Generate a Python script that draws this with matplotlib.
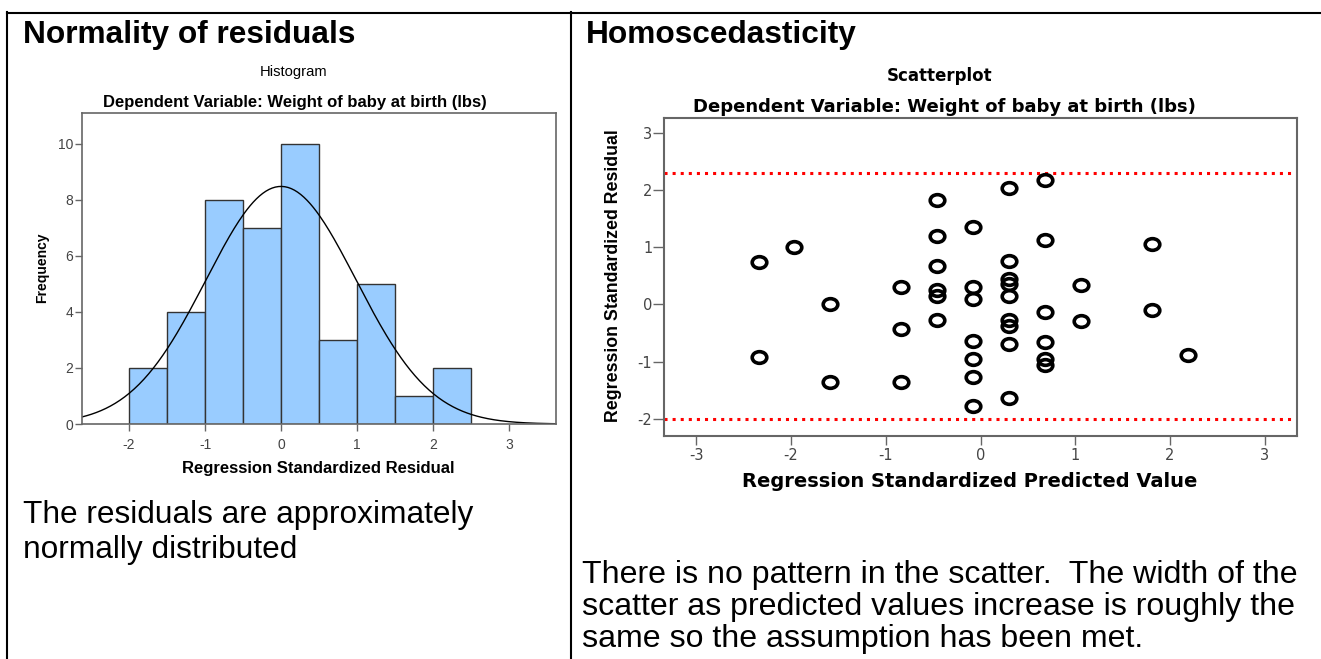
import numpy as np
import matplotlib
matplotlib.use("Agg")
import matplotlib.pyplot as plt
from matplotlib.lines import Line2D
from matplotlib.path import Path

plt.rcParams['axes.unicode_minus'] = False

# ---- data ----
bin_edges = [-2.0, -1.5, -1.0, -0.5, 0.0, 0.5, 1.0, 1.5, 2.0, 2.5]
bin_counts = [2, 4, 8, 7, 10, 3, 5, 1, 2]
resid_mean = 0.0
resid_std = 0.988

pred_x = [-2.34, -2.34, -1.97, -1.59, -1.59,
          -0.835, -0.835, -0.835,
          -0.456, -0.456, -0.456, -0.456, -0.456, -0.456,
          -0.08, -0.08, -0.08, -0.08, -0.08, -0.08, -0.08,
          0.30, 0.30, 0.30, 0.30, 0.30, 0.30, 0.30, 0.30, 0.30,
          0.68, 0.68, 0.68, 0.68, 0.68, 0.68,
          1.056, 1.056, 1.81, 1.81, 2.19]
resid_y = [0.75, -0.92, 1.01, 0.01, -1.35,
           0.31, -0.43, -1.36,
           1.83, 1.20, 0.68, 0.255, 0.155, -0.27,
           1.35, 0.30, 0.09, -0.64, -0.95, -1.26, -1.78,
           2.03, 0.76, 0.45, 0.36, 0.14, -0.28, -0.37, -0.70, -1.64,
           2.18, 1.13, -0.13, -0.65, -0.96, -1.06,
           0.34, -0.29, 1.06, -0.09, -0.89]
upper_limit = 2.29
lower_limit = -2.0

W, H = 1321, 659
def fx(px):
    return px / W
def fy(py):
    return 1 - py / H

sans = "Liberation Sans"
wide = "DejaVu Sans"
gray = "#444444"

fig = plt.figure(figsize=(W / 100, H / 100), dpi=100)

# outer table frame
for xs, ys in [([7, 1321], [12.5, 12.5]), ([7, 7], [12, 659]), ([570.5, 570.5], [12, 659])]:
    fig.add_artist(Line2D([fx(v) for v in xs], [fy(v) for v in ys], color="black", lw=1.5,
                          transform=fig.transFigure))

# headers
fig.text(fx(23), fy(43), "Normality of residuals", family=sans, weight="bold", size=22.8, va="baseline")
fig.text(fx(586), fy(43), "Homoscedasticity", family=sans, weight="bold", size=22.8, va="baseline")

# ---- histogram ----
ax1 = fig.add_axes([fx(82), fy(424), (556 - 82) / W, (424 - 113) / H])
ax1.hist(bin_edges[:-1], bins=bin_edges, weights=bin_counts, color="#99CCFF",
         edgecolor="#333333", linewidth=1)
xs = np.linspace(-2.62, 3.62, 300)
bw = bin_edges[1] - bin_edges[0]
n = sum(bin_counts)
curve = n * bw / (resid_std * np.sqrt(2 * np.pi)) * np.exp(-0.5 * ((xs - resid_mean) / resid_std) ** 2)
ax1.plot(xs, curve, color="black", lw=1)
ax1.set_xlim(-2.62, 3.62)
ax1.set_ylim(0, 11.1)
ax1.set_xticks([-2, -1, 0, 1, 2, 3])
ax1.set_yticks([0, 2, 4, 6, 8, 10])
ax1.tick_params(direction="out", length=5, width=1, color="#666666", labelcolor=gray, labelsize=10)
ax1.tick_params(axis="x", pad=5)
ax1.tick_params(axis="y", pad=1.5)
for lab in ax1.get_xticklabels() + ax1.get_yticklabels():
    lab.set_family(sans)
for sp in ax1.spines.values():
    sp.set_color("#666666")
    sp.set_linewidth(1.2)

fig.text(fx(294), fy(76), "Histogram", family=sans, size=10.6, ha="center", va="baseline")
fig.text(fx(295), fy(107), "Dependent Variable: Weight of baby at birth (lbs)", family=sans,
         weight="bold", size=12, ha="center", va="baseline")
fig.text(fx(318), fy(473), "Regression Standardized Residual", family=sans, weight="bold",
         size=12, ha="center", va="baseline")
fig.text(fx(42), fy(268), "Frequency", family=sans, weight="bold", size=10, rotation=90,
         ha="center", va="center")

# ---- scatterplot ----
ax2 = fig.add_axes([fx(664), fy(436), (1297 - 664) / W, (436 - 118) / H])
circ = Path.unit_circle()
ellipse = Path(circ.vertices * np.array([1.25, 1.0]), circ.codes)
ax2.plot(pred_x, resid_y, linestyle="none", marker=ellipse, markersize=10.5,
         markerfacecolor="none", markeredgecolor="black", markeredgewidth=2.6, zorder=3)
ax2.axhline(upper_limit, color="red", linestyle=":", lw=2.2)
ax2.axhline(lower_limit, color="red", linestyle=":", lw=2.2)
ax2.set_xlim(-3.34, 3.34)
ax2.set_ylim(-2.3, 3.26)
ax2.set_xticks([-3, -2, -1, 0, 1, 2, 3])
ax2.set_yticks([-2, -1, 0, 1, 2, 3])
ax2.tick_params(direction="out", width=1, color="#666666", labelcolor=gray, labelsize=10.5)
ax2.tick_params(axis="x", length=6.5, pad=2)
ax2.tick_params(axis="y", length=8, pad=0.5)
for lab in ax2.get_xticklabels() + ax2.get_yticklabels():
    lab.set_family(wide)
for sp in ax2.spines.values():
    sp.set_color("#666666")
    sp.set_linewidth(1.5)

fig.text(fx(940), fy(81), "Scatterplot", family=wide, weight="bold", size=12,
         ha="center", va="baseline")
fig.text(fx(944), fy(111.5), "Dependent Variable: Weight of baby at birth (lbs)", family=wide,
         weight="bold", size=13, ha="center", va="baseline")
fig.text(fx(970), fy(487), "Regression Standardized Predicted Value", family=wide,
         weight="bold", size=14, ha="center", va="baseline")
fig.text(fx(613), fy(276), "Regression Standardized Residual",
         family=sans, weight="bold", size=12.8, rotation=90,
         ha="center", va="center")

# ---- notes ----
fig.text(fx(23), fy(523), "The residuals are approximately", family=sans, size=22.8, va="baseline")
fig.text(fx(23), fy(558), "normally distributed", family=sans, size=22.8, va="baseline")
fig.text(fx(582), fy(583), "There is no pattern in the scatter.  The width of the", family=sans,
         size=23.1, va="baseline")
fig.text(fx(582), fy(615), "scatter as predicted values increase is roughly the", family=sans,
         size=23.1, va="baseline")
fig.text(fx(582), fy(647), "same so the assumption has been met.", family=sans,
         size=23.1, va="baseline")

fig.savefig("out.png", dpi=100)
